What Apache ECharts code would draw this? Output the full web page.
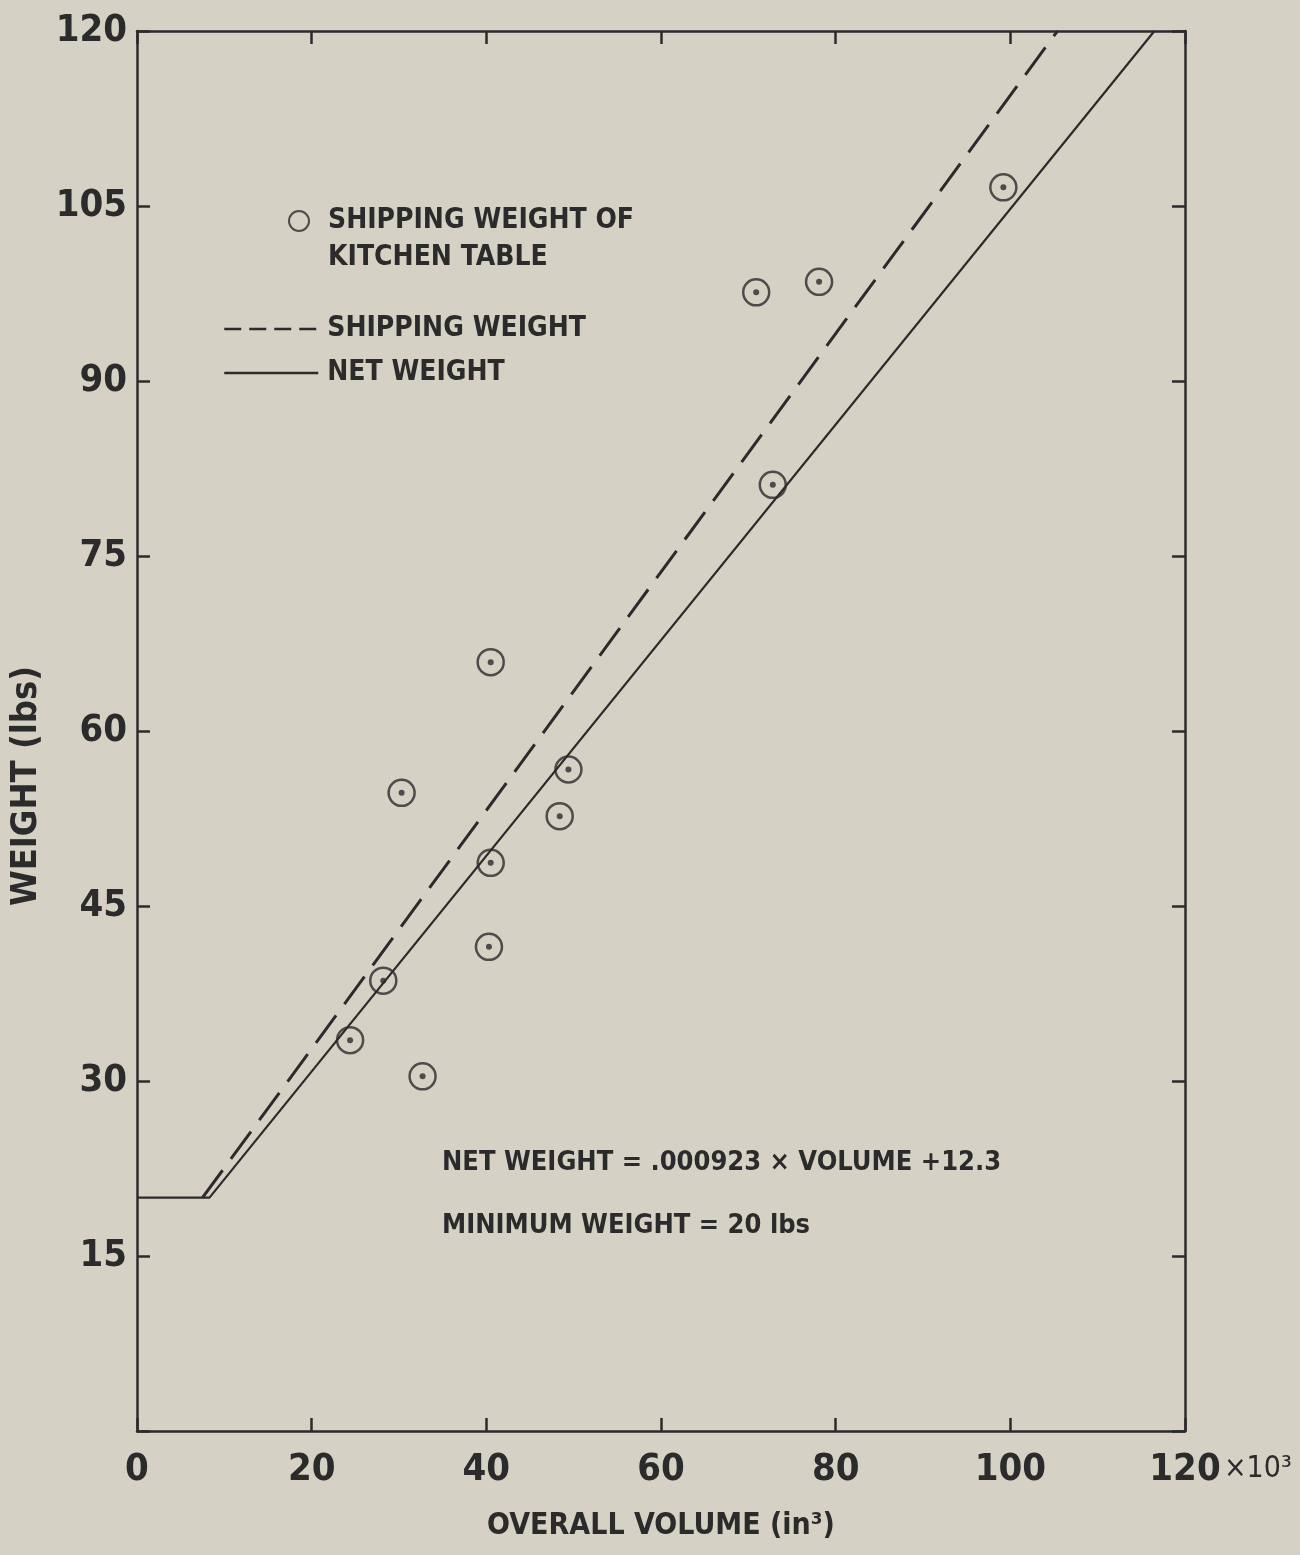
<!DOCTYPE html>
<html>
<head>
<meta charset="utf-8">
<script src="https://cdn.jsdelivr.net/npm/echarts@6/dist/echarts.min.js"></script>
<style>
  html, body { margin: 0; padding: 0; background: #d6d1c5; }
  #chart { width: 1300px; height: 1555px; }
</style>
</head>
<body>
<div id="chart"></div>
<script>
// kitchen table points (volume in 10^3 in3, weight lbs)
const volume = [24.4, 28.2, 32.7, 30.3, 40.5, 40.5, 40.3, 48.4, 49.4, 70.9, 78.1, 72.8, 99.2]
const weight = [33.5, 38.6, 30.4, 54.7, 65.9, 48.7, 41.5, 52.7, 56.7, 97.6, 98.5, 81.1, 106.6]

// fitted lines (end points)
const netX = [0, 8.3, 116.5]
const netY = [20, 20, 120]
const shipX = [7.5, 105.4]
const shipY = [20, 120]

const xTicks = [0, 20, 40, 60, 80, 100, 120]
const yTicks = [0, 15, 30, 45, 60, 75, 90, 105, 120]

const INK = '#2b2b2b'
const FONT = "'Liberation Sans Narrow', 'DejaVu Sans Condensed', 'Roboto Condensed', 'Liberation Sans', sans-serif"
const NONE = 'rgba(0,0,0,0)'

const points = volume.map((v, i) => [v, weight[i]])
const netLine = netX.map((v, i) => [v, netY[i]])
const shipLine = shipX.map((v, i) => [v, shipY[i]])

const chart = echarts.init(document.getElementById('chart'))

const axisBase = {
  type: 'value',
  min: 0,
  max: 120,
  axisLine: { show: true, onZero: false, lineStyle: { color: INK, width: 2.5 } },
  axisTick: { show: true, inside: true, length: 13, lineStyle: { color: INK, width: 2.5 } },
  splitLine: { show: false },
}
const bold = (size) => ({ fontSize: size, color: INK, fontFamily: FONT, fontWeight: 'bold' })

chart.setOption({
  backgroundColor: '#d6d1c5',
  animation: false,
  textStyle: { fontFamily: FONT, fontWeight: 'bold', color: INK },
  grid: { left: 137, right: 115, top: 31, bottom: 124, containLabel: false, outerBoundsMode: 'none' },
  xAxis: [
    {
      ...axisBase,
      position: 'bottom',
      interval: xTicks[1] - xTicks[0],
      axisLabel: { ...bold(38), margin: 20 },
      name: 'OVERALL VOLUME (in³)',
      nameLocation: 'middle',
      nameGap: 80,
      nameTextStyle: bold(30),
    },
    {
      ...axisBase,
      position: 'top',
      interval: xTicks[1] - xTicks[0],
      axisLabel: { show: false },
    },
  ],
  yAxis: [
    {
      ...axisBase,
      position: 'left',
      interval: yTicks[1] - yTicks[0],
      axisLabel: { ...bold(38), margin: 10, formatter: (v) => (v === 0 ? '' : String(v)) },
      name: 'WEIGHT (lbs)',
      nameLocation: 'middle',
      nameGap: 83,
      nameRotate: 90,
      // title sits a little below the middle of the axis
      nameTextStyle: { ...bold(36), padding: [0, 110, 0, 0] },
    },
    {
      ...axisBase,
      position: 'right',
      interval: yTicks[1] - yTicks[0],
      axisLabel: { show: false },
    },
  ],
  legend: [
    {
      selectedMode: false,
      left: 283,
      top: 165,
      itemWidth: 20,
      itemHeight: 20,
      data: [{
        name: 'SHIPPING WEIGHT OF\nKITCHEN TABLE',
        icon: 'circle',
        itemStyle: { color: NONE, borderColor: INK, borderWidth: 2 },
      }],
      // empty first line keeps the circle level with the first text line
      formatter: () => '{sp| }\n{t|SHIPPING WEIGHT OF}\n{t|KITCHEN TABLE}',
      textStyle: {
        ...bold(28),
        rich: {
          sp: { ...bold(28), lineHeight: 37 },
          t: { ...bold(28), lineHeight: 37, padding: [0, 0, 0, 14] },
        },
      },
    },
    {
      selectedMode: false,
      orient: 'vertical',
      left: 218,
      top: 310,
      itemWidth: 94,
      itemHeight: 14,
      itemGap: 16,
      data: [
        { name: 'SHIPPING WEIGHT', lineStyle: { type: [17, 8], width: 2.5, color: INK }, itemStyle: { color: NONE, borderColor: NONE } },
        { name: 'NET WEIGHT', lineStyle: { width: 2.5, color: INK }, itemStyle: { color: NONE, borderColor: NONE } },
      ],
      formatter: (name) => '{t|' + name + '}',
      textStyle: {
        ...bold(28),
        rich: { t: { ...bold(28), lineHeight: 34, padding: [0, 0, 0, 4] } },
      },
    },
  ],
  graphic: [
    {
      type: 'text', left: 1224, top: 1454,
      style: { text: '×10³', fontSize: 30, fill: INK, fontFamily: FONT, fontWeight: 'normal' },
    },
    {
      type: 'text', left: 442, top: 1149,
      style: { text: 'NET WEIGHT = .000923 × VOLUME +12.3', fontSize: 27, fill: INK, fontFamily: FONT, fontWeight: 'bold' },
    },
    {
      type: 'text', left: 442, top: 1212,
      style: { text: 'MINIMUM WEIGHT = 20 lbs', fontSize: 27, fill: INK, fontFamily: FONT, fontWeight: 'bold' },
    },
  ],
  series: [
    {
      name: 'SHIPPING WEIGHT OF\nKITCHEN TABLE',
      type: 'scatter',
      data: points,
      symbol: 'circle',
      symbolSize: 26,
      itemStyle: { color: NONE, borderColor: INK, borderWidth: 2.5 },
      z: 3,
    },
    {
      name: 'center dots',
      type: 'scatter',
      data: points,
      symbol: 'circle',
      symbolSize: 6,
      itemStyle: { color: INK },
      z: 4,
    },
    {
      name: 'SHIPPING WEIGHT',
      type: 'line',
      data: shipLine,
      symbol: 'none',
      lineStyle: { color: INK, width: 3, type: [34, 14] },
      z: 2,
    },
    {
      name: 'NET WEIGHT',
      type: 'line',
      data: netLine,
      symbol: 'none',
      lineStyle: { color: INK, width: 2.2 },
      z: 2,
    },
  ],
})
</script>
</body>
</html>
